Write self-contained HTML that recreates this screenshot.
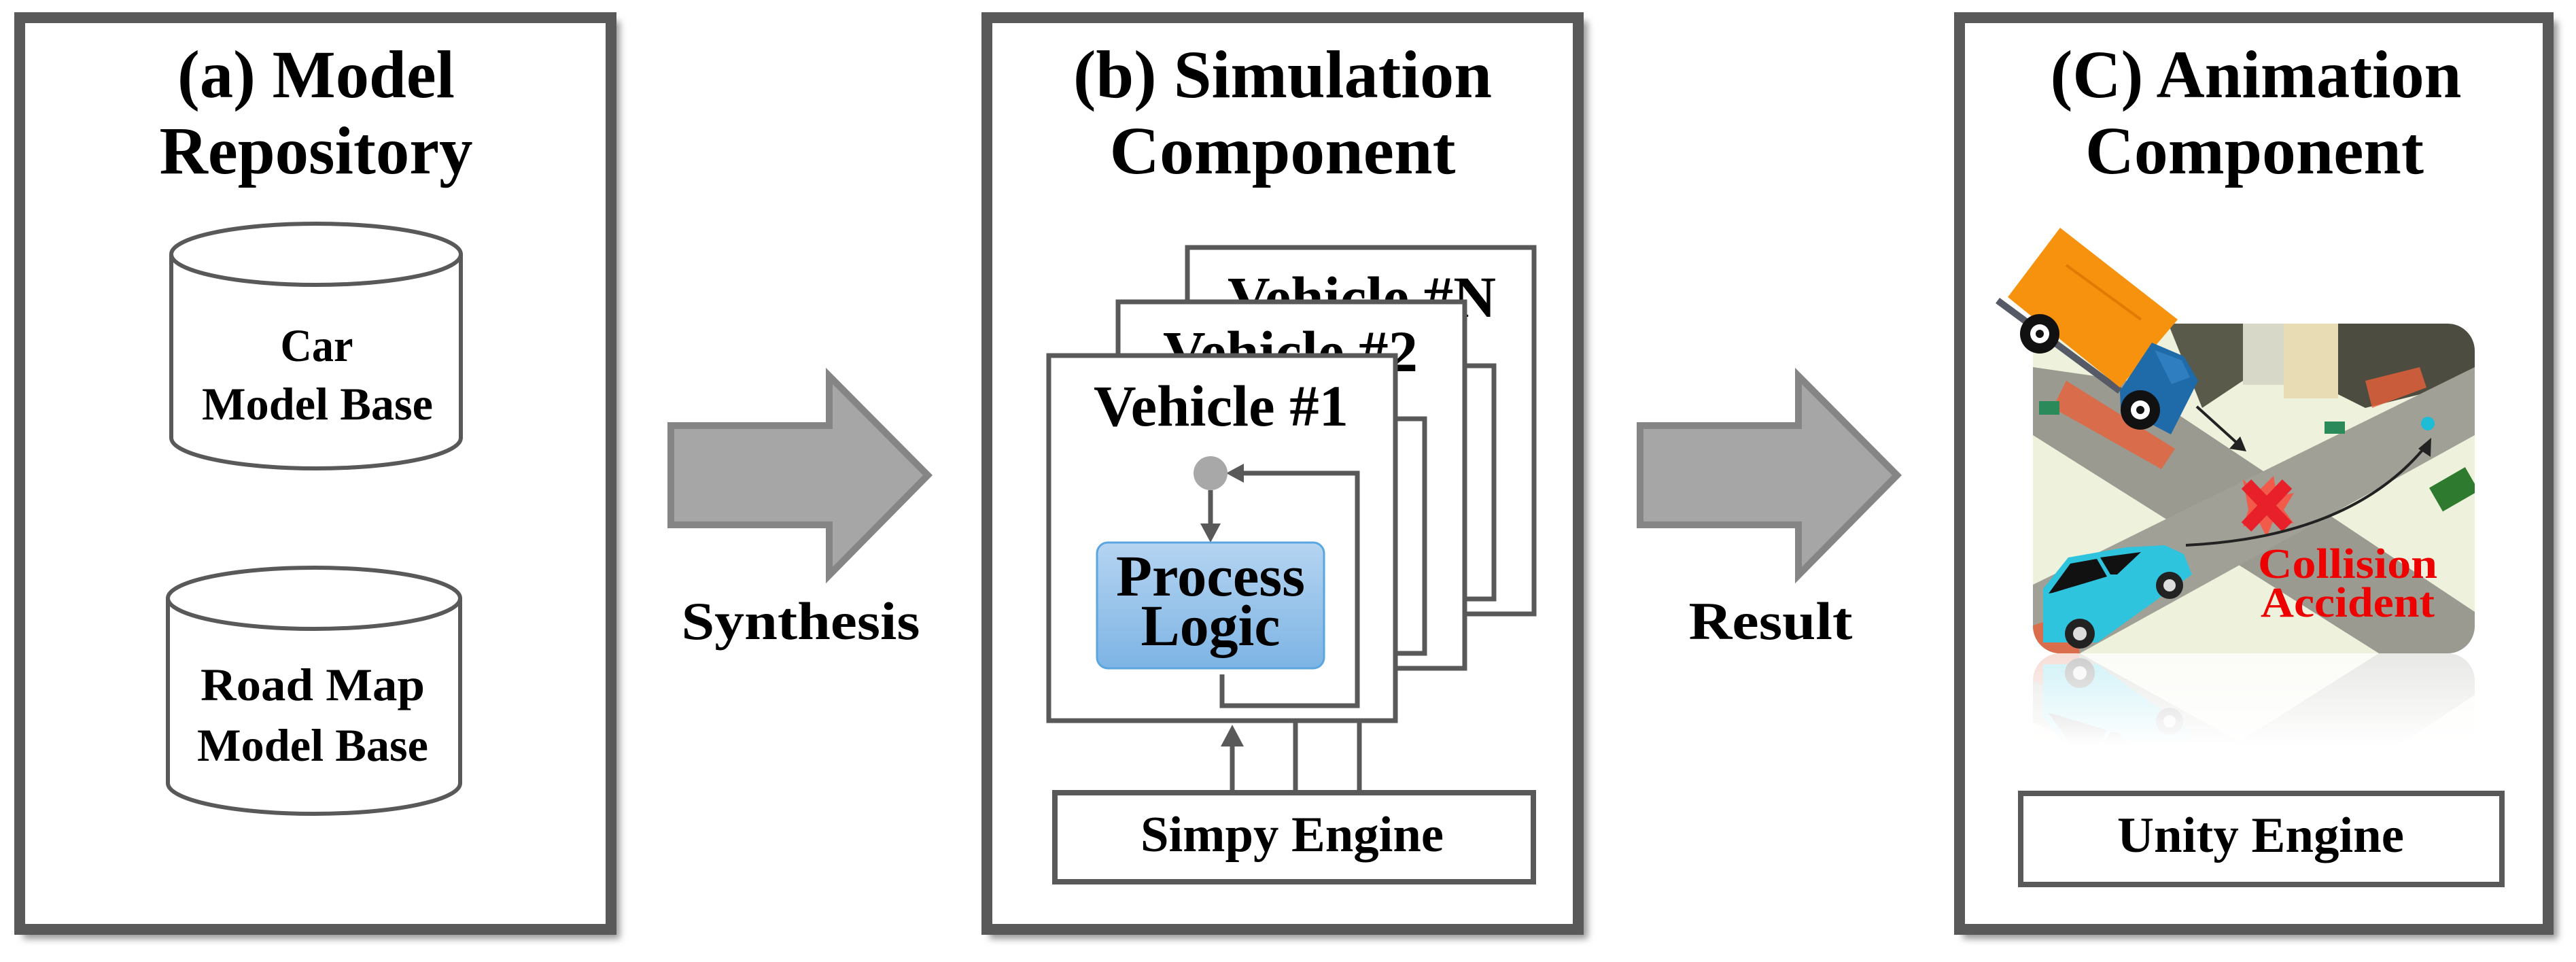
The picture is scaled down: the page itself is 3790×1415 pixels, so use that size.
<!DOCTYPE html>
<html><head><meta charset="utf-8"><style>
html,body{margin:0;padding:0;background:#fff;}
svg{display:block;}
text{font-family:"Liberation Serif",serif;font-weight:bold;fill:#000;}
</style></head><body>
<svg width="3790" height="1415" viewBox="0 0 3790 1415" xmlns="http://www.w3.org/2000/svg">
<defs>
<filter id="sh" x="-5%" y="-5%" width="110%" height="110%"><feGaussianBlur stdDeviation="5"/></filter>
<linearGradient id="pl" x1="0" y1="0" x2="0" y2="1"><stop offset="0" stop-color="#b5d4f1"/><stop offset="1" stop-color="#7db4e4"/></linearGradient>
<linearGradient id="refl" x1="0" y1="0" x2="0" y2="1"><stop offset="0" stop-color="#fff" stop-opacity="0.35"/><stop offset="1" stop-color="#fff" stop-opacity="1"/></linearGradient>
<clipPath id="imgclip"><rect x="2991" y="476" width="650" height="485" rx="40"/></clipPath>
<clipPath id="reflclip"><rect x="2991" y="961" width="650" height="135"/></clipPath>
<marker id="ah" markerWidth="10" markerHeight="10" refX="8" refY="5" orient="auto" markerUnits="userSpaceOnUse"><path d="M0,0 L10,5 L0,10z" fill="#5a5a5a"/></marker>
</defs>

<!-- panel shadows -->
<rect x="34" y="31" width="878" height="1350" fill="#999" filter="url(#sh)"/>
<rect x="1456" y="31" width="880" height="1350" fill="#999" filter="url(#sh)"/>
<rect x="2888" y="31" width="875" height="1350" fill="#999" filter="url(#sh)"/>

<!-- Panel A -->
<rect x="29" y="26" width="870" height="1341" fill="#fff" stroke="#595959" stroke-width="16"/>
<text x="465" y="143" font-size="100" text-anchor="middle" textLength="408" lengthAdjust="spacingAndGlyphs">(a) Model</text>
<text x="465" y="255" font-size="100" text-anchor="middle" textLength="461" lengthAdjust="spacingAndGlyphs">Repository</text>

<g fill="#fff" stroke="#595959" stroke-width="6">
<path d="M252,374 L252,644 A213,45 0 0 0 678,644 L678,374"/>
<ellipse cx="465" cy="374" rx="213" ry="45"/>
<path d="M247,880 L247,1152 A215,45 0 0 0 677,1152 L677,880"/>
<ellipse cx="462" cy="880" rx="215" ry="45"/>
</g>
<text x="466" y="531" font-size="68" text-anchor="middle" textLength="107" lengthAdjust="spacingAndGlyphs">Car</text>
<text x="467" y="617" font-size="68" text-anchor="middle" textLength="340" lengthAdjust="spacingAndGlyphs">Model Base</text>
<text x="460" y="1030" font-size="68" text-anchor="middle" textLength="330" lengthAdjust="spacingAndGlyphs">Road Map</text>
<text x="460" y="1119" font-size="68" text-anchor="middle" textLength="340" lengthAdjust="spacingAndGlyphs">Model Base</text>

<!-- Arrow 1 -->
<path d="M987,626 L1220,626 L1220,553 L1365,699 L1220,846 L1220,772 L987,772 Z" fill="#a6a6a6" stroke="#858585" stroke-width="10"/>
<text x="1178" y="940" font-size="78" text-anchor="middle" textLength="351" lengthAdjust="spacingAndGlyphs">Synthesis</text>

<!-- Panel B -->
<rect x="1452" y="26" width="870" height="1341" fill="#fff" stroke="#595959" stroke-width="16"/>
<text x="1887" y="143" font-size="100" text-anchor="middle" textLength="616" lengthAdjust="spacingAndGlyphs">(b) Simulation</text>
<text x="1887" y="255" font-size="100" text-anchor="middle" textLength="509" lengthAdjust="spacingAndGlyphs">Component</text>

<g stroke="#595959" stroke-width="7" fill="#fff">
<rect x="1747" y="364" width="510" height="539"/>
<text x="1806" y="466" font-size="86" stroke="none" textLength="395" lengthAdjust="spacingAndGlyphs">Vehicle #N</text>
<polyline points="2155,538 2198,538 2198,881 2155,881" fill="none"/>
<rect x="1645" y="444" width="510" height="539"/>
<text x="1711" y="546" font-size="86" stroke="none" textLength="375" lengthAdjust="spacingAndGlyphs">Vehicle #2</text>
<polyline points="2053,616 2096,616 2096,961 2053,961" fill="none"/>
<rect x="1543" y="523" width="510" height="537"/>
</g>
<text x="1609" y="626" font-size="86" textLength="375" lengthAdjust="spacingAndGlyphs">Vehicle #1</text>

<!-- loop -->
<polyline points="1798,992 1798,1038 1997,1038 1997,696 1820,696" fill="none" stroke="#595959" stroke-width="7"/>
<path d="M1804,696 L1830,682 L1830,710 Z" fill="#595959"/>
<circle cx="1781" cy="696" r="25" fill="#a8a8a8"/>
<line x1="1781" y1="721" x2="1781" y2="772" stroke="#595959" stroke-width="7"/>
<path d="M1766,770 L1796,770 L1781,798 Z" fill="#595959"/>
<rect x="1614" y="798" width="334" height="185" rx="16" fill="url(#pl)" stroke="#5aa6e0" stroke-width="3"/>
<text x="1781" y="876" font-size="86" text-anchor="middle" textLength="278" lengthAdjust="spacingAndGlyphs">Process</text>
<text x="1781" y="949" font-size="86" text-anchor="middle" textLength="205" lengthAdjust="spacingAndGlyphs">Logic</text>

<!-- Simpy -->
<g stroke="#595959" stroke-width="7">
<line x1="1813" y1="1163" x2="1813" y2="1090"/>
<line x1="1906" y1="1163" x2="1906" y2="1063"/>
<line x1="2000" y1="1163" x2="2000" y2="1063"/>
</g>
<path d="M1796,1098 L1830,1098 L1813,1066 Z" fill="#595959"/>
<rect x="1552" y="1166" width="704" height="131" fill="#fff" stroke="#595959" stroke-width="8"/>
<text x="1901" y="1252" font-size="74" text-anchor="middle" textLength="446" lengthAdjust="spacingAndGlyphs">Simpy Engine</text>

<!-- Arrow 2 -->
<path d="M2413,626 L2646,626 L2646,553 L2791,699 L2646,846 L2646,772 L2413,772 Z" fill="#a6a6a6" stroke="#858585" stroke-width="10"/>
<text x="2605" y="940" font-size="78" text-anchor="middle" textLength="241" lengthAdjust="spacingAndGlyphs">Result</text>

<!-- Panel C -->
<rect x="2883" y="26" width="866" height="1341" fill="#fff" stroke="#595959" stroke-width="16"/>
<text x="3319" y="143" font-size="100" text-anchor="middle" textLength="605" lengthAdjust="spacingAndGlyphs">(C) Animation</text>
<text x="3317" y="255" font-size="100" text-anchor="middle" textLength="498" lengthAdjust="spacingAndGlyphs">Component</text>

<!-- scene image -->
<g id="scene" clip-path="url(#imgclip)">
<rect x="2991" y="476" width="650" height="485" fill="#eef1dc"/>
<!-- buildings -->
<polygon points="3190,476 3300,476 3300,560 3240,600" fill="#5a5a4a"/>
<rect x="3360" y="476" width="80" height="110" fill="#e8dcb4"/>
<polygon points="3440,476 3641,476 3641,560 3480,600 3440,580" fill="#4c4c40"/>
<rect x="3300" y="476" width="60" height="90" fill="#d8d8c8"/>
<!-- roads -->
<polygon points="2991,540 2991,640 3500,961 3641,961 3641,900 3130,560" fill="#9a9a90"/>
<polygon points="2991,860 2991,961 3060,961 3641,640 3641,540" fill="#a0a096"/>
<polygon points="3040,560 3200,660 3180,690 3020,600" fill="#e8623a" opacity="0.8"/>
<polygon points="3480,560 3560,540 3570,570 3490,600" fill="#e8623a" opacity="0.8"/>
<polygon points="2991,920 3050,900 3060,961 2991,961" fill="#e8623a" opacity="0.8"/>
<rect x="3580" y="700" width="61" height="40" fill="#2e7a2e" transform="rotate(-30 3610 720)"/>
<rect x="3000" y="590" width="30" height="20" fill="#2a8a5a"/>
<rect x="3420" y="620" width="30" height="18" fill="#2a8a5a"/>
<!-- collision -->
<polygon points="3300,705 3320,725 3345,700 3350,730 3375,725 3360,750 3375,770 3345,765 3335,790 3322,765 3300,775 3308,750" fill="#f25a4a"/>
<g stroke="#e8202a" stroke-width="20" stroke-linecap="butt">
<line x1="3305" y1="712" x2="3365" y2="775"/>
<line x1="3365" y1="712" x2="3305" y2="775"/>
</g>
<!-- arrows -->
<line x1="3232" y1="598" x2="3295" y2="655" stroke="#222" stroke-width="4"/>
<path d="M3305,664 L3280,660 L3296,642 Z" fill="#222"/>
<path d="M3216,802 Q3460,790 3570,655" fill="none" stroke="#222" stroke-width="4"/>
<path d="M3577,644 L3576,672 L3558,660 Z" fill="#222"/>
<circle cx="3572" cy="623" r="10" fill="#1fbcd6"/>
<!-- car -->
<polygon points="3006,866 3043,820 3128,805 3185,802 3213,815 3225,845 3086,945 3006,945" fill="#2ec4de"/>
<polygon points="3014,873 3046,829 3085,822 3100,848 3020,872" fill="#111"/>
<polygon points="3090,820 3150,812 3115,845 3105,845" fill="#111"/>
<circle cx="3192" cy="861" r="20" fill="#222"/><circle cx="3192" cy="861" r="9" fill="#ddd"/>
<circle cx="3060" cy="932" r="22" fill="#222"/><circle cx="3060" cy="932" r="10" fill="#ddd"/>
</g>
<!-- reflection -->
<g clip-path="url(#reflclip)">
<g transform="translate(0,1922) scale(1,-1)" opacity="0.35"><use href="#scene"/></g>
<rect x="2991" y="961" width="650" height="135" fill="url(#refl)"/>
</g>
<text x="3454" y="850" font-size="62" fill="#ee0000" style="fill:#ee0000" text-anchor="middle" textLength="264" lengthAdjust="spacingAndGlyphs">Collision</text>
<text x="3454" y="907" font-size="62" style="fill:#ee0000" text-anchor="middle" textLength="256" lengthAdjust="spacingAndGlyphs">Accident</text>
<!-- truck -->
<line x1="2939" y1="442" x2="3119" y2="575" stroke="#555a66" stroke-width="10"/>
<polygon points="3031,335 3204,470 3119,570 2954,437" fill="#f7920f"/>
<line x1="3040" y1="390" x2="3150" y2="470" stroke="#e07a00" stroke-width="4"/>
<polygon points="3119,575 3166,504 3213,524 3234,560 3194,639 3120,600" fill="#1f6aa8"/>
<polygon points="3170,515 3210,530 3222,555 3195,565" fill="#2f7fc0"/>
<circle cx="3001" cy="491" r="29" fill="#111"/><circle cx="3001" cy="491" r="14" fill="#fff"/><circle cx="3001" cy="491" r="6" fill="#111"/>
<circle cx="3149" cy="603" r="29" fill="#111"/><circle cx="3149" cy="603" r="14" fill="#fff"/><circle cx="3149" cy="603" r="6" fill="#111"/>

<!-- Unity -->
<rect x="2973" y="1167" width="708" height="134" fill="#fff" stroke="#595959" stroke-width="8"/>
<text x="3326" y="1253" font-size="74" text-anchor="middle" textLength="422" lengthAdjust="spacingAndGlyphs">Unity Engine</text>
</svg>
</body></html>
